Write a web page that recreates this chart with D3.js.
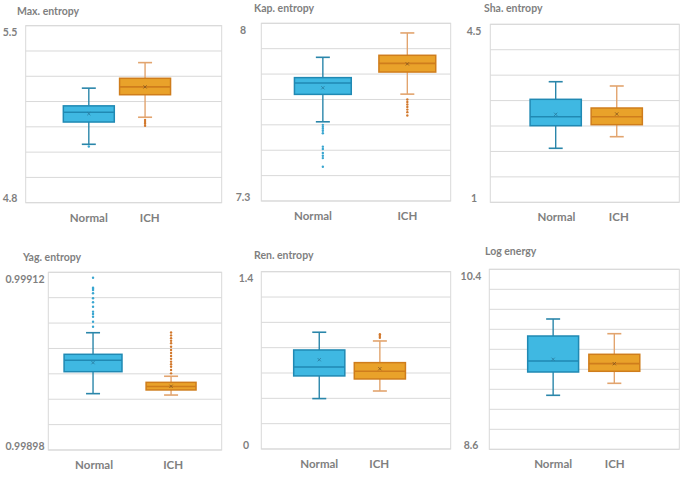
<!DOCTYPE html>
<html><head><meta charset="utf-8">
<script src="https://cdn.jsdelivr.net/npm/d3@7"></script>
<style>
html,body{margin:0;padding:0;background:#fff;}
svg{display:block;font-family:Lato,"Open Sans",sans-serif;}
</style></head>
<body>
<svg id="chart" width="685" height="478"></svg>
<script>
// ---------- data ----------
const categories = ["Normal", "ICH"];
const titles = ["Max. entropy", "Kap. entropy", "Sha. entropy", "Yag. entropy", "Ren. entropy", "Log energy"];
const yMins  = [4.8, 7.3, 1, 0.99898, 0, 8.6];
const yMaxs  = [5.5, 8.0, 4.5, 0.99912, 1.4, 10.4];
const ySteps = [0.1, 0.1, 0.5, 0.00002, 0.2, 0.2];
const tickLabels = [["5.5", "4.8"], ["8", "7.3"], ["4.5", "1"], ["0.99912", "0.99898"], ["1.4", "0"], ["10.4", "8.6"]];

// stats: [whiskerLow, q1, median, q3, whiskerHigh, mean]
const maxEntNormal = [5.031, 5.119, 5.158, 5.183, 5.253, 5.152];
const maxEntICH    = [5.138, 5.227, 5.258, 5.292, 5.354, 5.258];
const kapEntNormal = [7.612, 7.720, 7.765, 7.786, 7.866, 7.746];
const kapEntICH    = [7.721, 7.808, 7.842, 7.874, 7.962, 7.840];
const shaEntNormal = [2.062, 2.506, 2.683, 3.025, 3.371, 2.730];
const shaEntICH    = [2.290, 2.526, 2.683, 2.854, 3.287, 2.736];
const yagEntNormal = [0.9990244, 0.9990417, 0.9990507, 0.9990554, 0.9990724, 0.9990488];
const yagEntICH    = [0.9990233, 0.9990273, 0.9990300, 0.9990333, 0.9990381, 0.9990302];
const renEntNormal = [0.398, 0.577, 0.648, 0.782, 0.922, 0.705];
const renEntICH    = [0.458, 0.553, 0.614, 0.682, 0.853, 0.634];
const logEnNormal  = [9.140, 9.373, 9.483, 9.733, 9.903, 9.500];
const logEnICH     = [9.260, 9.380, 9.457, 9.550, 9.756, 9.456];

// outliers
const maxEntNormalOut = [5.022];
const maxEntICHOut    = [5.127, 5.119, 5.112, 5.104];
const kapEntNormalOut = [7.600, 7.592, 7.585, 7.577, 7.567, 7.514, 7.505, 7.489, 7.478, 7.469, 7.435];
const kapEntICHOut    = [7.700, 7.690, 7.680, 7.670, 7.660, 7.650, 7.637];
const shaEntNormalOut = [];
const shaEntICHOut    = [];
const yagEntNormalOut = [0.9991157, 0.9991079, 0.9991070, 0.9991061, 0.9991035, 0.9990995, 0.9990964, 0.9990929, 0.9990890, 0.9990871, 0.9990850, 0.9990811, 0.9990771];
const yagEntICHOut    = [0.9990726, 0.9990703, 0.9990680, 0.9990660, 0.9990641, 0.9990614, 0.9990588, 0.9990564, 0.9990541, 0.9990518, 0.9990496, 0.9990476, 0.9990456, 0.9990430, 0.9990404];
const renEntNormalOut = [];
const renEntICHOut    = [0.906, 0.893, 0.879];
const logEnNormalOut  = [];
const logEnICHOut     = [];

const stats = [
  [maxEntNormal, maxEntICH], [kapEntNormal, kapEntICH], [shaEntNormal, shaEntICH],
  [yagEntNormal, yagEntICH], [renEntNormal, renEntICH], [logEnNormal, logEnICH]
];
const outliers = [
  [maxEntNormalOut, maxEntICHOut], [kapEntNormalOut, kapEntICHOut], [shaEntNormalOut, shaEntICHOut],
  [yagEntNormalOut, yagEntICHOut], [renEntNormalOut, renEntICHOut], [logEnNormalOut, logEnICHOut]
];

// ---------- layout (per panel) ----------
const layout = [
  {l: 25.7, t: 25.7, r: 221.7, b: 202.7, cx: [0.322, 0.609], bw: [0.26, 0.26], lx: [0.322, 0.633], tx: 17, ty: 12, kx: 10},
  {l: 261.3, t: 23.3, r: 450.7, b: 201, cx: [0.325, 0.771], bw: [0.30, 0.30], lx: [0.273, 0.771], tx: 254, ty: 9, kx: 243},
  {l: 490.3, t: 24.3, r: 679.3, b: 202.3, cx: [0.346, 0.669], bw: [0.271, 0.271], lx: [0.35, 0.68], tx: 484, ty: 9.5, kx: 474},
  {l: 48.3, t: 272.3, r: 221.7, b: 450, cx: [0.258, 0.708], bw: [0.334, 0.288], lx: [0.264, 0.72], tx: 23, ty: 258, kx: 25},
  {l: 261.3, t: 271.7, r: 450.7, b: 449, cx: [0.306, 0.626], bw: [0.27, 0.27], lx: [0.306, 0.623], tx: 254, ty: 256, kx: 246},
  {l: 489.3, t: 269.3, r: 679.3, b: 449.3, cx: [0.336, 0.658], bw: [0.268, 0.268], lx: [0.336, 0.66], tx: 485, ty: 252.5, kx: 471}
];

const fills   = ["#3fb8e2", "#e9a22a"];
const strokes = ["#2089b3", "#cf7d1c"];
const whiskerCols = ["#2a86aa", "#e2a46e"];
const outCols = ["#3aa6d0", "#d2782c"];
const textCol = "#7f7f7f";
const gridCol = "#d9d9d9";

const svg = d3.select("#chart");

layout.forEach((L, p) => {
  const g = svg.append("g");
  const w = L.r - L.l;
  const y = d3.scaleLinear().domain([yMins[p], yMaxs[p]]).range([L.b, L.t]);
  const xc = d3.scaleOrdinal().domain(categories).range(L.cx.map(f => L.l + f * w));
  const xl = d3.scaleOrdinal().domain(categories).range(L.lx.map(f => L.l + f * w));
  const bwScale = d3.scaleOrdinal().domain(categories).range(L.bw.map(f => f * w));

  // gridlines
  const nInt = Math.round((yMaxs[p] - yMins[p]) / ySteps[p]);
  const gridVals = d3.range(nInt + 1).map(i => yMins[p] + i * ySteps[p]);
  g.selectAll("line.grid").data(gridVals).enter().append("line")
    .attr("x1", L.l).attr("x2", L.r)
    .attr("y1", d => y(d)).attr("y2", d => y(d))
    .attr("stroke", gridCol).attr("stroke-width", 1);
  g.append("rect").attr("x", L.l).attr("y", L.t).attr("width", w).attr("height", L.b - L.t)
    .attr("fill", "none").attr("stroke", gridCol).attr("stroke-width", 1);

  // title
  g.append("text").attr("x", L.tx).attr("y", L.ty).attr("dominant-baseline", "middle")
    .attr("font-size", 10.5).attr("font-weight", "bold").attr("fill", textCol).text(titles[p]);

  // tick labels (only extremes)
  g.append("text").attr("x", L.kx).attr("y", y(yMaxs[p]) + 8).attr("text-anchor", "middle")
    .attr("dominant-baseline", "middle").attr("font-size", 10.5).attr("font-weight", "bold")
    .attr("fill", textCol).text(tickLabels[p][0]);
  g.append("text").attr("x", L.kx).attr("y", y(yMins[p]) - 3).attr("text-anchor", "middle")
    .attr("dominant-baseline", "middle").attr("font-size", 10.5).attr("font-weight", "bold")
    .attr("fill", textCol).text(tickLabels[p][1]);

  // category labels
  g.selectAll("text.cat").data(categories).enter().append("text")
    .attr("x", d => xl(d)).attr("y", L.b + 16).attr("text-anchor", "middle")
    .attr("dominant-baseline", "middle").attr("font-size", 11.5).attr("font-weight", "bold")
    .attr("fill", textCol).text(d => d);

  categories.forEach((c, i) => {
    const s = stats[p][i];
    const cx = xc(c), bw = bwScale(c), cap = 7;
    const wc = whiskerCols[i];
    // whiskers
    g.append("line").attr("x1", cx).attr("x2", cx).attr("y1", y(s[0])).attr("y2", y(s[1]))
      .attr("stroke", wc).attr("stroke-width", 1.4);
    g.append("line").attr("x1", cx).attr("x2", cx).attr("y1", y(s[3])).attr("y2", y(s[4]))
      .attr("stroke", wc).attr("stroke-width", 1.4);
    [s[0], s[4]].forEach(v => {
      g.append("line").attr("x1", cx - cap).attr("x2", cx + cap).attr("y1", y(v)).attr("y2", y(v))
        .attr("stroke", wc).attr("stroke-width", 1.6);
    });
    // box
    g.append("rect").attr("x", cx - bw / 2).attr("y", y(s[3])).attr("width", bw)
      .attr("height", y(s[1]) - y(s[3])).attr("fill", fills[i])
      .attr("stroke", strokes[i]).attr("stroke-width", 1.5);
    // median
    g.append("line").attr("x1", cx - bw / 2).attr("x2", cx + bw / 2)
      .attr("y1", y(s[2])).attr("y2", y(s[2])).attr("stroke", strokes[i]).attr("stroke-width", 1.6);
    // mean marker
    g.append("path").attr("transform", `translate(${cx},${y(s[5])})`)
      .attr("d", "M-1.6,-1.6L1.6,1.6M-1.6,1.6L1.6,-1.6")
      .attr("stroke", i === 0 ? "#2a7fa3" : "#8a5a20").attr("stroke-width", 0.9).attr("fill", "none");
    // outliers
    g.selectAll(null).data(outliers[p][i]).enter().append("circle")
      .attr("cx", cx).attr("cy", d => y(d)).attr("r", 1.2).attr("fill", outCols[i]);
  });
});
</script>
</body></html>
